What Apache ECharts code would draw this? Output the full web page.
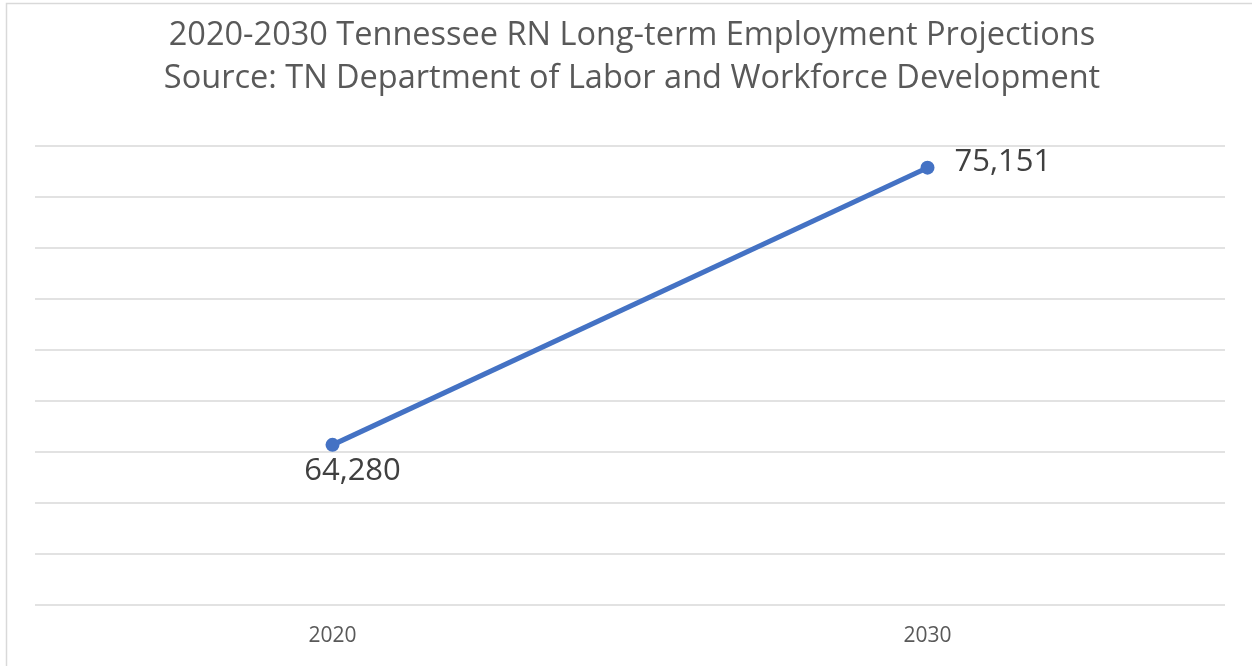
<!DOCTYPE html>
<html><head><meta charset="utf-8">
<script src="https://cdn.jsdelivr.net/npm/echarts@6/dist/echarts.min.js"></script>
<style>html,body{margin:0;padding:0;background:#fff}#c{width:1252px;height:666px}</style>
</head><body><div id="c"></div>
<script>
const titleLines = ['2020-2030 Tennessee RN Long-term Employment Projections', 'Source: TN Department of Labor and Workforce Development'];
const categories = ['2020', '2030'];
const employment = [64280, 75151];
const labelPositions = ['bottom', 'right'];

const labelTweaks = [{offset: [20, -4], distance: 8}, {offset: [0, -5], distance: 20}];

const chart = echarts.init(document.getElementById('c'), null, {renderer: 'canvas'});
chart.setOption({
  backgroundColor: '#fff',
  animation: false,
  graphic: [{type: 'rect', shape: {x: 6.5, y: 3.5, width: 1400, height: 800}, style: {fill: 'none', stroke: '#d9d9d9', lineWidth: 1.5}, silent: true}],
  title: {
    text: titleLines.join('\n'),
    left: 627, top: 9, textAlign: 'center',
    textStyle: {fontFamily: 'Open Sans', fontSize: 32.5, fontWeight: 'normal', color: '#595959', lineHeight: 43}
  },
  grid: {left: 35, right: 27, top: 146, bottom: 61},
  xAxis: {
    type: 'category', data: categories, boundaryGap: true,
    axisLine: {show: false}, axisTick: {show: false},
    axisLabel: {fontFamily: 'Open Sans', fontSize: 21, color: '#595959', margin: 21}
  },
  yAxis: {
    type: 'value', min: 58000, max: 76000, interval: 2000,
    axisLabel: {show: false}, axisLine: {show: false}, axisTick: {show: false},
    splitLine: {lineStyle: {color: '#d9d9d9', width: 1.5}}
  },
  series: [{
    type: 'line',
    data: employment.map((v, i) => ({value: v, label: Object.assign({position: labelPositions[i]}, labelTweaks[i])})),
    symbol: 'circle', symbolSize: 14,
    lineStyle: {color: '#4472C4', width: 5},
    itemStyle: {color: '#4472C4'},
    label: {show: true, fontFamily: 'Open Sans', fontSize: 31, color: '#404040',
      formatter: p => p.value.toLocaleString('en-US')}
  }]
});
</script></body></html>
